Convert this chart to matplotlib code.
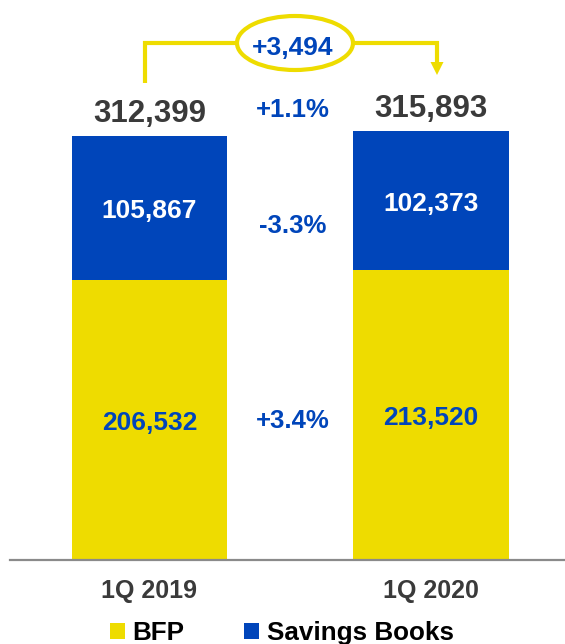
import matplotlib
matplotlib.use("Agg")
import matplotlib.pyplot as plt
from matplotlib.patches import Ellipse, Polygon
from matplotlib.lines import Line2D

# ---- data ----
periods = ["1Q 2019", "1Q 2020"]
bfp = [206532, 213520]
savings_books = [105867, 102373]
totals = [312399, 315893]
change_total = "+1.1%"
change_savings = "-3.3%"
change_bfp = "+3.4%"
delta_label = "+3,494"
series_names = ["BFP", "Savings Books"]

YELLOW = "#EEDC00"
BLUE = "#0045BA"
DARK = "#3a3a3a"
FONT = "Liberation Sans"

W, H = 565, 644
fig = plt.figure(figsize=(W / 100, H / 100), dpi=100)
plt.rcParams["font.family"] = [FONT, "DejaVu Sans"]


def P(x, y):
    """Pixel position (from top-left) to figure fraction."""
    return x / W, 1 - y / H


# axes: baseline 560 px from top, bars centred at 149.5 and 431 px
ax = fig.add_axes([0, (H - 560) / H, 1, 560 / H])
ax.set_ylim(0, 412600)
ax.set_xlim(-0.531, 1.476)
ax.axis("off")

x = range(len(periods))
bw = 0.553
b1 = ax.bar(x, bfp, width=bw, color=YELLOW, label=series_names[0], linewidth=0)
b2 = ax.bar(x, savings_books, width=bw, bottom=bfp, color=BLUE,
            label=series_names[1], linewidth=0)

# baseline
ax.axhline(0, xmin=10 / W, xmax=1, color="#8a8a8a", lw=1.6, clip_on=False)

for i in x:
    # segment values
    ax.annotate(f"{bfp[i]:,}", (i, bfp[i] / 2), xytext=(0, -7.3),
                textcoords="offset points", ha="center", va="baseline",
                fontsize=19, fontweight="bold", color=BLUE)
    ax.annotate(f"{savings_books[i]:,}", (i, bfp[i] + savings_books[i] / 2),
                xytext=(0, -7.3), textcoords="offset points", ha="center",
                va="baseline", fontsize=19, fontweight="bold", color="white")
    # totals
    ax.annotate(f"{totals[i]:,}", (i, bfp[i] + savings_books[i]),
                xytext=(0, 10), textcoords="offset points", ha="center",
                va="baseline", fontsize=22.5, fontweight="bold", color=DARK)
    # period labels
    ax.annotate(periods[i], (i, 0), xytext=(0, -27.4),
                textcoords="offset points", ha="center", va="baseline",
                fontsize=18, fontweight="bold", color=DARK)

# growth rates between the bars
for label, ypx in [(change_total, 117), (change_savings, 233), (change_bfp, 428)]:
    fig.text(*P(293, ypx), label, ha="center", va="baseline", fontsize=18.5,
             fontweight="bold", color=BLUE)

# bracket with ellipse and arrow
lw = 3.0
left = Line2D(*zip(*[P(145, 83), P(145, 43), P(237, 43)]), transform=fig.transFigure,
              color=YELLOW, lw=lw, solid_joinstyle="miter", solid_capstyle="butt")
right = Line2D(*zip(*[P(353, 43), P(437, 43), P(437, 64)]), transform=fig.transFigure,
               color=YELLOW, lw=lw, solid_joinstyle="miter", solid_capstyle="butt")
fig.add_artist(left)
fig.add_artist(right)
fig.add_artist(Polygon([P(430.5, 62), P(443.5, 62), P(437, 75)], closed=True,
                       transform=fig.transFigure, color=YELLOW, lw=0))
cx, cy = P(295, 43)
fig.add_artist(Ellipse((cx, cy), 116 / W, 54 / H, transform=fig.transFigure,
                       facecolor="white", edgecolor=YELLOW, lw=lw))
fig.text(*P(293, 55), delta_label, ha="center", va="baseline", fontsize=19,
         fontweight="bold", color=BLUE)

# legend
fig.legend(handles=[b1, b2], labels=series_names, loc="center left",
           bbox_to_anchor=P(110, 633), ncol=2, frameon=False,
           prop={"family": FONT, "weight": "bold", "size": 18.7},
           handlelength=0.57, handleheight=0.57, handletextpad=0.3,
           columnspacing=2.3, borderpad=0, borderaxespad=0)

fig.savefig("out.png", dpi=100)
